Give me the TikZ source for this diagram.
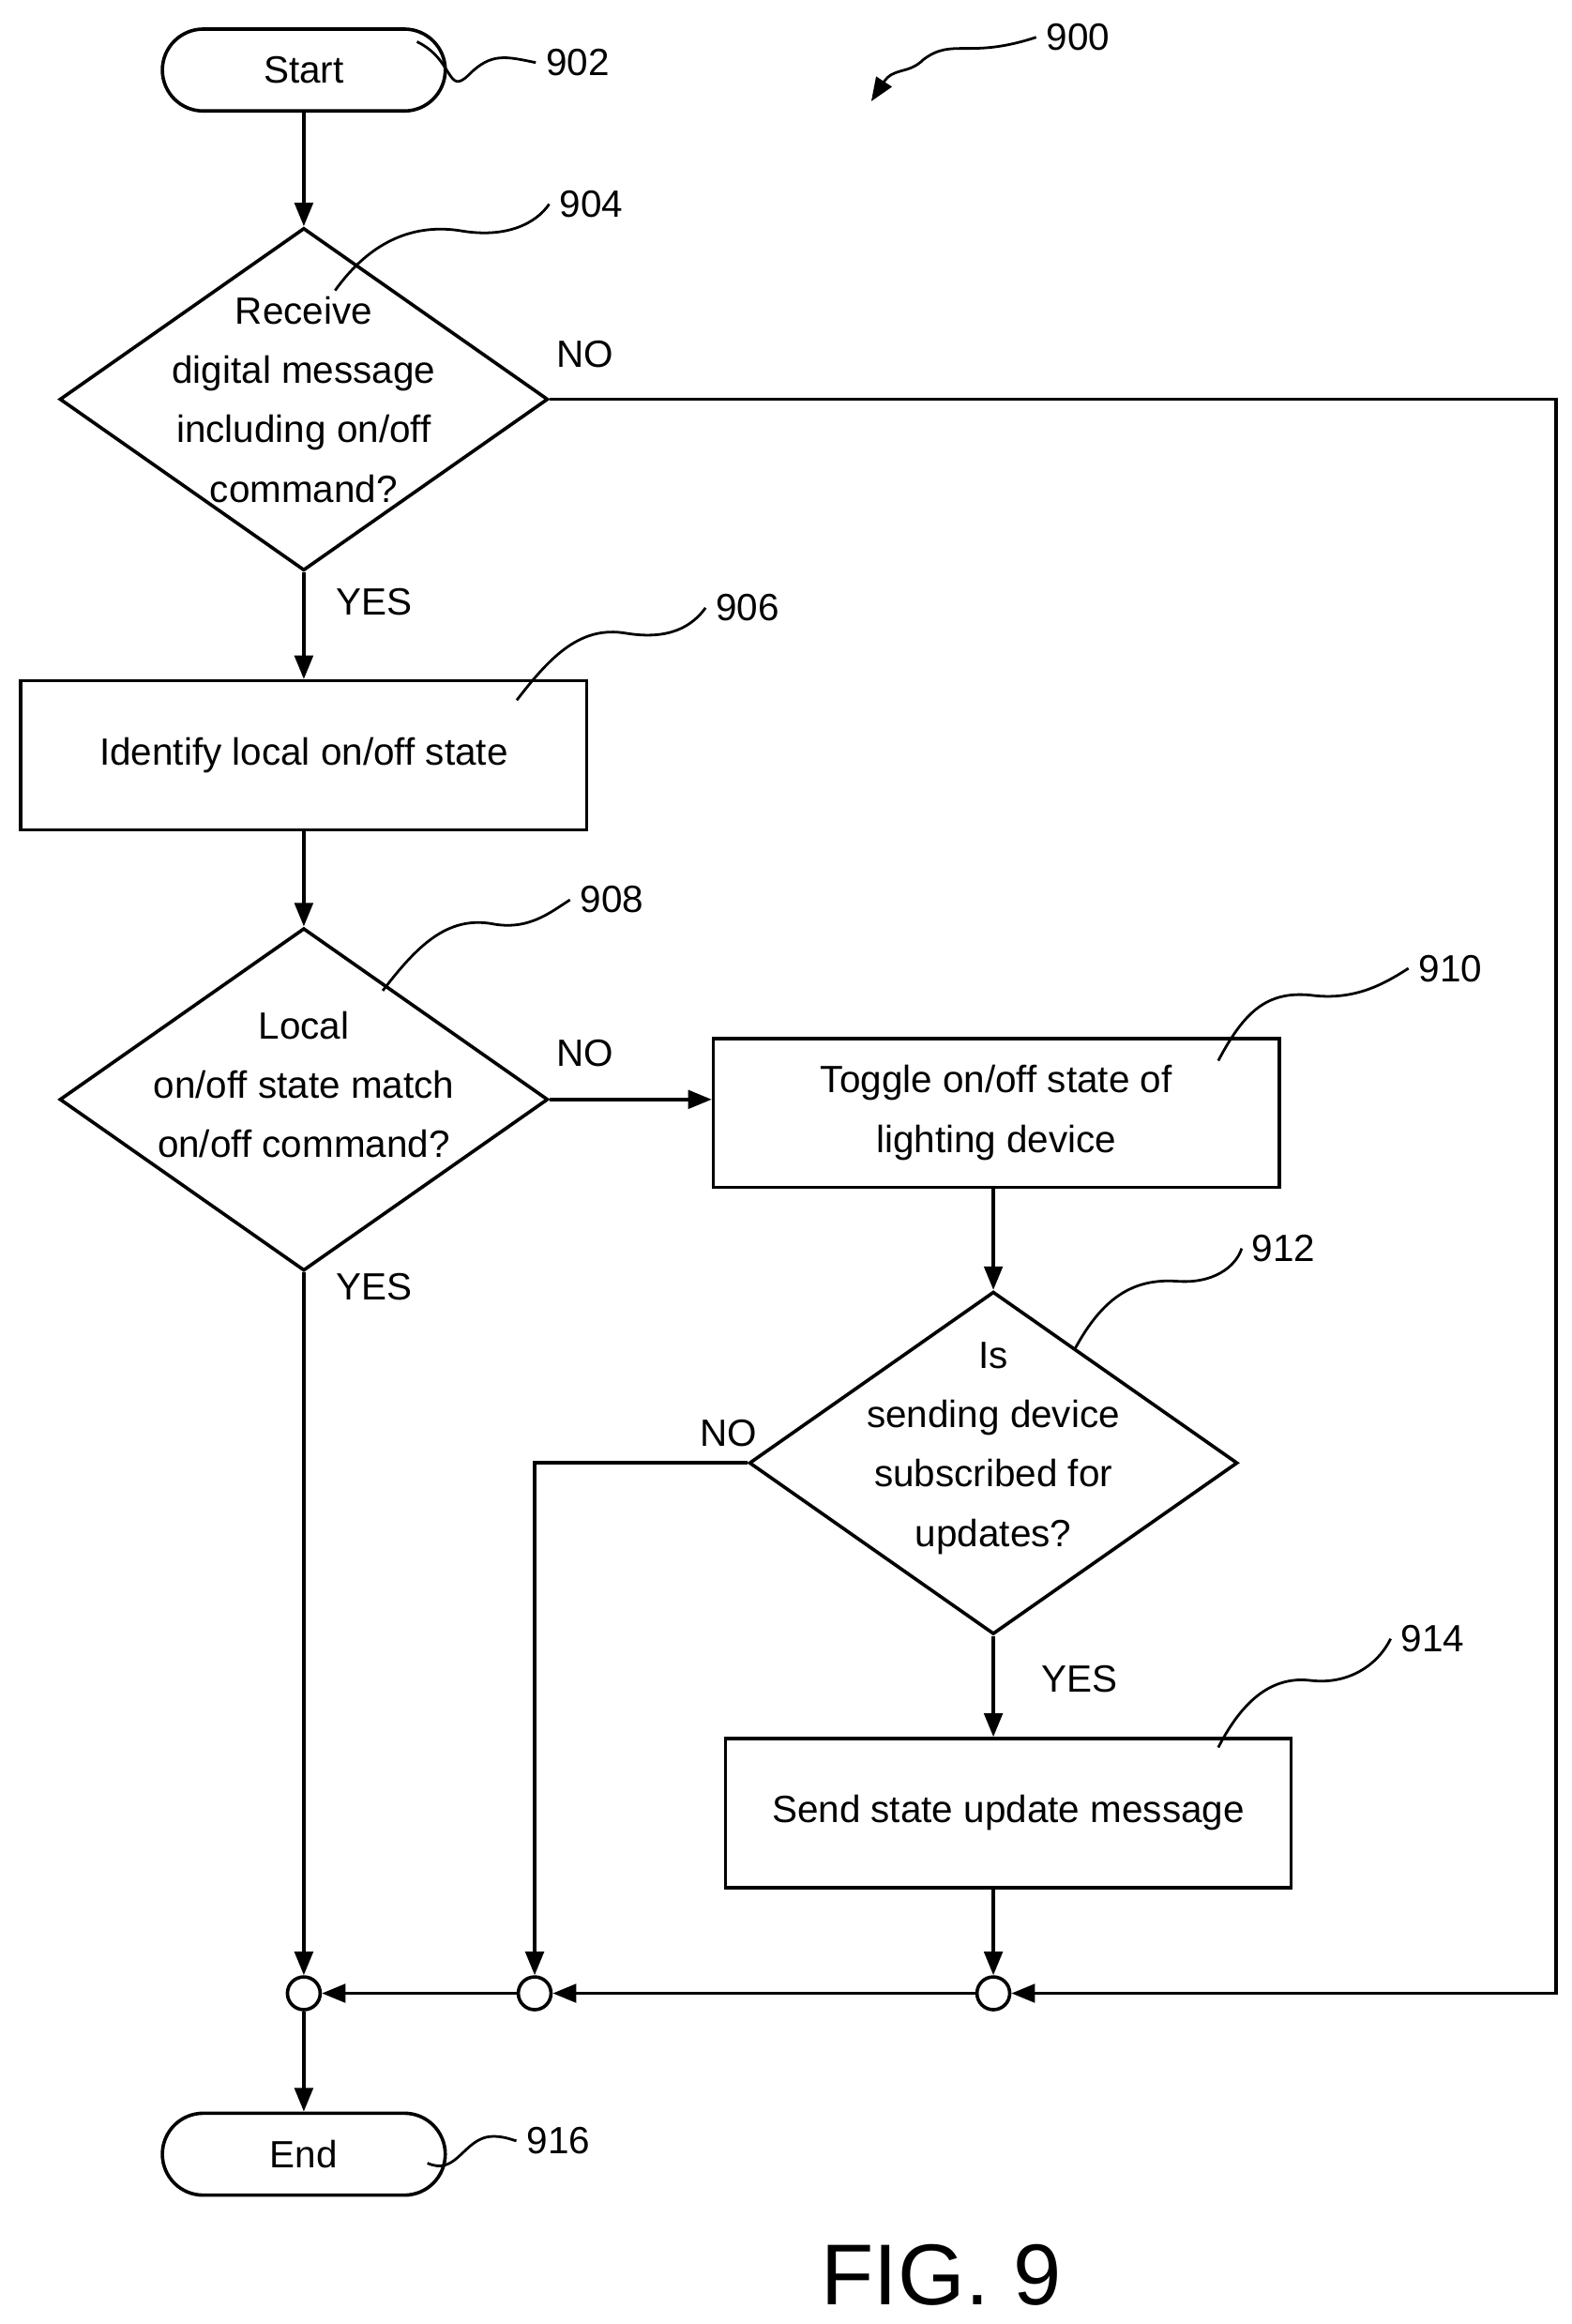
\documentclass[tikz,border=0pt]{standalone}
\usepackage{fontspec}
\setmainfont{Liberation Sans}
\usetikzlibrary{shapes.geometric,arrows.meta}
\begin{document}
\begin{tikzpicture}[x=0.02cm,y=-0.02cm,line width=1.3pt,
  every node/.style={font=\fontsize{14.5}{22.7}\selectfont},
  box/.style={draw,rectangle,minimum width=7.6cm,minimum height=2cm,align=center,inner sep=0pt},
  term/.style={draw,rounded corners=0.55cm,minimum width=3.8cm,minimum height=1.1cm,inner sep=0pt},
  dia/.style={draw,diamond,minimum width=6.56cm,minimum height=4.6cm,aspect=1.42,align=center,inner sep=0pt},
  jn/.style={draw,circle,minimum size=0.44cm,inner sep=0pt},
  arr/.style={-{Triangle[length=9pt,width=7pt]}},
  lbl/.style={font=\fontsize{14.5}{16}\selectfont}]
\useasboundingbox (0,0) rectangle (1055,1560);
\node[term] (start) at (204,47) {Start};
\node[dia] (d904) at (204,268) {};
\node[align=center] (t904) at (204,268) {Receive\\digital message\\including on/off\\command?};
\node[box] (b906) at (204,507) {Identify local on/off state};
\node[dia] (d908) at (204,738) {};
\node[align=center] (t908) at (204,728) {Local\\on/off state match\\on/off command?};
\node[box] (b910) at (669,747) {Toggle on/off state of\\lighting device};
\node[dia] (d912) at (667,982) {};
\node[align=center] (t912) at (667,972) {Is\\sending device\\subscribed for\\updates?};
\node[box] (b914) at (677,1217) {Send state update message};
\node[jn] (c1) at (204,1338) {};
\node[jn] (c2) at (359,1338) {};
\node[jn] (c3) at (667,1338) {};
\node[term] (end) at (204,1446) {End};
\coordinate (r1) at (1045,268);
\coordinate (k2) at (359,982);
\draw[arr] (start) -- (d904.north);
\draw[arr] (d904.south) -- (b906.north);
\draw[arr] (d904.east) -- (r1) |- (c3.east);
\draw[arr] (b906.south) -- (d908.north);
\draw[arr] (d908.east) -- (b910.west |- d908.east);
\draw[arr] (d908.south) -- (c1.north);
\draw[arr] (d912.north |- b910.south) -- (d912.north);
\draw[arr] (d912.west) -- (k2) -- (c2.north);
\draw[arr] (d912.south) -- (d912.south |- b914.north);
\draw[arr] (c3.north |- b914.south) -- (c3.north);
\draw[arr] (c3.west) -- (c2.east);
\draw[arr] (c2.west) -- (c1.east);
\draw[arr] (c1.south) -- (end.north);
\node[lbl] (n1) at (393,238) {NO};
\node[lbl] (y1) at (251,404) {YES};
\node[lbl] (n2) at (393,707) {NO};
\node[lbl] (y2) at (251,864) {YES};
\node[lbl] (n3) at (489,962) {NO};
\node[lbl] (y3) at (725,1127) {YES};
\node[lbl] (l902) at (388,42) {902};
\node[lbl] (l900) at (724,25) {900};
\node[lbl] (l904) at (397,137) {904};
\node[lbl] (l906) at (502,408) {906};
\node[lbl] (l908) at (411,604) {908};
\node[lbl] (l910) at (974,650) {910};
\node[lbl] (l912) at (862,838) {912};
\node[lbl] (l914) at (962,1100) {914};
\node[lbl] (l916) at (375,1437) {916};
\node[font=\fontsize{33}{36}\selectfont] (fig) at (632,1527) {FIG. 9};
\begin{scope}[line width=1pt]
\draw (280,28) .. controls (305,40) and (300,65) .. (315,50) .. controls (330,35) and (340,38) .. (l902.west);
\draw[arr] (l900.west) .. controls (650,40) and (640,25) .. (620,40) .. controls (610,50) and (600,45) .. (585,68);
\draw (225,195) .. controls (250,160) and (280,150) .. (310,155) .. controls (340,160) and (360,150) .. (l904.west);
\draw (347,470) .. controls (370,440) and (390,420) .. (420,425) .. controls (450,430) and (465,420) .. (l906.west);
\draw (257,665) .. controls (280,635) and (300,615) .. (330,620) .. controls (355,625) and (370,612) .. (l908.west);
\draw (818,712) .. controls (835,680) and (850,665) .. (880,668) .. controls (910,672) and (930,660) .. (l910.west);
\draw (722,905) .. controls (740,872) and (760,858) .. (790,860) .. controls (815,862) and (830,850) .. (l912.west);
\draw (818,1173) .. controls (835,1140) and (855,1125) .. (880,1128) .. controls (905,1131) and (925,1118) .. (l914.west);
\draw (287,1452) .. controls (305,1460) and (310,1440) .. (325,1435) .. controls (335,1432) and (345,1437) .. (l916.west);
\end{scope}
\end{tikzpicture}
\end{document}
